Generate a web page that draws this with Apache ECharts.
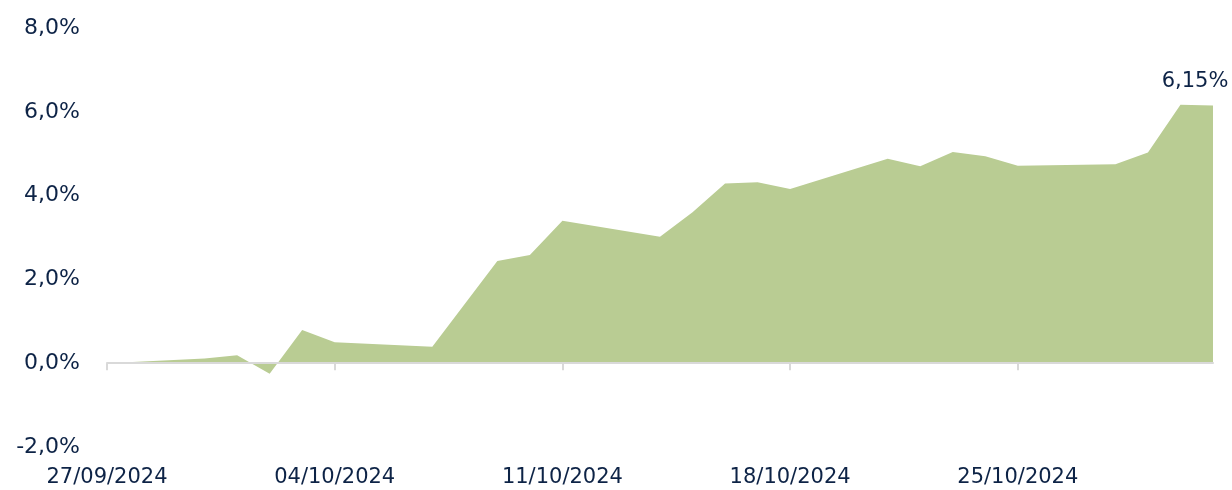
<!DOCTYPE html>
<html>
<head>
<meta charset="utf-8">
<script src="https://cdn.jsdelivr.net/npm/echarts@6/dist/echarts.min.js"></script>
<style>
  html, body { margin: 0; padding: 0; background: #fff; }
  #chart { width: 1232px; height: 490px; }
</style>
</head>
<body>
<div id="chart"></div>
<script>
// performance since 27/09/2024, in %
var dates = [
  '2024-09-27', '2024-09-30', '2024-10-01', '2024-10-02', '2024-10-03', '2024-10-04',
  '2024-10-07', '2024-10-09', '2024-10-10', '2024-10-11',
  '2024-10-14', '2024-10-15', '2024-10-16', '2024-10-17', '2024-10-18',
  '2024-10-21', '2024-10-22', '2024-10-23', '2024-10-24', '2024-10-25',
  '2024-10-28', '2024-10-29', '2024-10-30', '2024-10-31'
];
var perf = [
  0, 0.11, 0.19, -0.25, 0.79, 0.50,
  0.39, 2.44, 2.58, 3.40,
  3.02, 3.60, 4.29, 4.32, 4.16,
  4.88, 4.70, 5.04, 4.94, 4.71,
  4.75, 5.03, 6.17, 6.15
];
var tickDates = ['2024-09-27', '2024-10-04', '2024-10-11', '2024-10-18', '2024-10-25'];
var yTicks = [-2, 0, 2, 4, 6, 8];

var navy = '#0d2346';
var green = '#b9cc93';
var DAY = 86400000;
var start = Date.UTC(2024, 8, 27);

// day offset from the first date (calendar days, weekends included)
function dayIdx(d) {
  var p = d.split('-');
  return Math.round((Date.UTC(+p[0], +p[1] - 1, +p[2]) - start) / DAY);
}
function pad(n) {
  return (n < 10 ? '0' : '') + n;
}
function fmtDay(v) {
  var d = new Date(start + v * DAY);
  return pad(d.getUTCDate()) + '/' + pad(d.getUTCMonth() + 1) + '/' + d.getUTCFullYear();
}
function fmtPct(v, digits) {
  return v.toFixed(digits).replace('.', ',') + '%';
}

var tickValues = tickDates.map(dayIdx);
var xMax = dayIdx(dates[dates.length - 1]);
var seriesData = dates.map(function (d, i) {
  var item = { value: [dayIdx(d), perf[i]] };
  if (i === dates.length - 1) {
    // only the last point carries a (invisible) symbol, for its label
    item.symbol = 'circle';
    item.symbolSize = 0;
    item.label = {
      show: true,
      position: 'top',
      distance: 5,
      offset: [-18, -8],
      color: navy,
      fontSize: 21,
      fontFamily: 'DejaVu Sans',
      formatter: function (p) { return fmtPct(p.value[1], 2); }
    };
  }
  return item;
});

var chart = echarts.init(document.getElementById('chart'));
var option = {
  animation: false,
  grid: { left: 107, right: 19, top: 28, bottom: 43 },
  xAxis: [
    {
      type: 'value',
      min: 0,
      max: xMax,
      position: 'bottom',
      axisLine: { show: false, onZero: false },
      axisTick: { show: false },
      splitLine: { show: false },
      axisLabel: {
        customValues: tickValues,
        formatter: fmtDay,
        color: navy,
        fontSize: 21,
        fontFamily: 'DejaVu Sans',
        margin: 20
      }
    },
    {
      type: 'value',
      min: 0,
      max: xMax,
      position: 'bottom',
      z: 5,
      axisLine: { show: true, onZero: true, lineStyle: { color: '#d9d9d9', width: 2 } },
      axisTick: { show: true, customValues: tickValues, length: 7, lineStyle: { color: '#d9d9d9', width: 2 } },
      axisLabel: { show: false },
      splitLine: { show: false }
    }
  ],
  yAxis: {
    type: 'value',
    min: yTicks[0],
    max: yTicks[yTicks.length - 1],
    interval: 2,
    axisLine: { show: false },
    axisTick: { show: false },
    splitLine: { show: false },
    axisLabel: {
      formatter: function (v) { return fmtPct(v, 1); },
      color: navy,
      fontSize: 22,
      fontFamily: 'DejaVu Sans',
      margin: 27,
      padding: [3, 0, 0, 0]
    }
  },
  series: [
    {
      type: 'line',
      xAxisIndex: 0,
      data: seriesData,
      showSymbol: true,
      symbol: 'none',
      lineStyle: { width: 0 },
      areaStyle: { color: green, opacity: 1 },
      z: 2
    }
  ]
};
chart.setOption(option);
</script>
</body>
</html>
